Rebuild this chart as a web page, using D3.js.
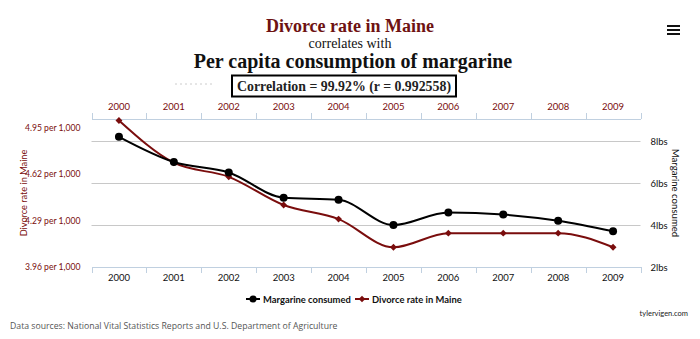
<!DOCTYPE html>
<html>
<head>
<meta charset="utf-8">
<script src="https://cdn.jsdelivr.net/npm/d3@7"></script>
<style>
  html, body { margin: 0; padding: 0; background: #fff; }
  svg { display: block; }
</style>
</head>
<body>
<svg id="chart" width="700" height="339"></svg>
<script>
const years = ["2000","2001","2002","2003","2004","2005","2006","2007","2008","2009"];
const margarine = [8.2, 7.0, 6.5, 5.3, 5.2, 4.0, 4.6, 4.5, 4.2, 3.7];
const divorce = [5.0, 4.7, 4.6, 4.4, 4.3, 4.1, 4.2, 4.2, 4.2, 4.1];
const leftTicks = [3.96, 4.29, 4.62, 4.95];
const rightTicks = [2, 4, 6, 8];

const svg = d3.select("#chart");
const RED = "#7a0d0d";
const SANS = "Lato, Open Sans, sans-serif";
const plot = { left: 91.5, right: 640.5, top: 119, bottom: 267 };

const x = d3.scaleBand().domain(years).range([plot.left, plot.right]);
const cx = d => x(d) + x.bandwidth() / 2;
const yL = d3.scaleLinear().domain([3.96, 3.96 + (plot.bottom - plot.top) / 46.5 * 0.33]).range([plot.bottom, plot.top]);
const yR = d3.scaleLinear().domain([2, 2 + (plot.bottom - plot.top) / 21]).range([plot.bottom, plot.top]);

// Titles
svg.append("text").attr("x", 350).attr("y", 32).attr("text-anchor", "middle")
  .attr("font-family", "Liberation Serif, Times New Roman, serif").attr("font-weight", "bold")
  .attr("font-size", 18).attr("fill", "#6e1212").text("Divorce rate in Maine");
svg.append("text").attr("x", 350).attr("y", 47.5).attr("text-anchor", "middle")
  .attr("font-family", "Liberation Serif, Times New Roman, serif")
  .attr("font-size", 14).attr("fill", "#111").text("correlates with");
svg.append("text").attr("x", 353).attr("y", 68).attr("text-anchor", "middle")
  .attr("font-family", "Liberation Serif, Times New Roman, serif").attr("font-weight", "bold")
  .attr("font-size", 20).attr("fill", "#111").text("Per capita consumption of margarine");
svg.append("rect").attr("x", 232).attr("y", 75.5).attr("width", 224).attr("height", 21)
  .attr("fill", "none").attr("stroke", "#000").attr("stroke-width", 2);
svg.append("text").attr("x", 344).attr("y", 91).attr("text-anchor", "middle")
  .attr("font-family", "Liberation Serif, Times New Roman, serif").attr("font-weight", "bold")
  .attr("font-size", 15).attr("fill", "#222")
  .attr("textLength", 214).attr("lengthAdjust", "spacingAndGlyphs")
  .text("Correlation = 99.92% (r = 0.992558)");
svg.append("line").attr("x1", 175).attr("x2", 212).attr("y1", 84).attr("y2", 84)
  .attr("stroke", "#ccc").attr("stroke-width", 1).attr("stroke-dasharray", "2,3");

// Hamburger
[26, 30, 34].forEach(yy => svg.append("rect").attr("x", 667).attr("y", yy - 1).attr("width", 13).attr("height", 2).attr("fill", "#111"));

// Gridlines (right axis ticks)
svg.append("g").selectAll("line").data(rightTicks.slice(1)).join("line")
  .attr("x1", plot.left).attr("x2", plot.right)
  .attr("y1", d => Math.round(yR(d)) + 0.5).attr("y2", d => Math.round(yR(d)) + 0.5)
  .attr("stroke", "#c8c8c8").attr("stroke-width", 1);

// Top axis
const topAxis = d3.axisTop(x).tickSize(0).tickPadding(9);
const gTop = svg.append("g").attr("transform", `translate(0,${plot.top})`).call(topAxis);
gTop.select(".domain").attr("stroke", "#c0d0e0");
gTop.selectAll("text").attr("fill", RED).attr("font-family", SANS).attr("font-size", 9.5);
gTop.selectAll(".bt").data(d3.range(years.length + 1)).join("line")
  .attr("x1", i => Math.round(plot.left + i * x.step()) + 0.5).attr("x2", i => Math.round(plot.left + i * x.step()) + 0.5)
  .attr("y1", 0).attr("y2", -6).attr("stroke", "#c0d0e0");

// Bottom axis
const botAxis = d3.axisBottom(x).tickSize(0).tickPadding(7);
const gBot = svg.append("g").attr("transform", `translate(0,${plot.bottom})`).call(botAxis);
gBot.select(".domain").attr("stroke", "#c0d0e0");
gBot.selectAll("text").attr("fill", "#111").attr("font-family", SANS).attr("font-size", 9.5);
gBot.selectAll(".bt").data(d3.range(years.length + 1)).join("line")
  .attr("x1", i => Math.round(plot.left + i * x.step()) + 0.5).attr("x2", i => Math.round(plot.left + i * x.step()) + 0.5)
  .attr("y1", 0).attr("y2", 6).attr("stroke", "#c0d0e0");

// Left axis
const gL = svg.append("g").attr("transform", `translate(${plot.left},0)`)
  .call(d3.axisLeft(yL).tickValues(leftTicks).tickSize(0).tickPadding(11).tickFormat(d => d3.format(".2f")(d) + " per 1,000"));
gL.select(".domain").remove();
gL.selectAll("text").attr("fill", RED).attr("font-family", SANS).attr("font-size", 8.6);
svg.append("text").attr("transform", "translate(27,193) rotate(-90)").attr("text-anchor", "middle")
  .attr("fill", RED).attr("font-family", SANS).attr("font-size", 9.2)
  .text("Divorce rate in Maine");

// Right axis
const gR = svg.append("g").attr("transform", `translate(${plot.right},0)`)
  .call(d3.axisRight(yR).tickValues(rightTicks).tickSize(0).tickPadding(10).tickFormat(d => d + "lbs"));
gR.select(".domain").remove();
gR.selectAll("text").attr("fill", "#111").attr("font-family", SANS).attr("font-size", 9.5);
svg.append("text").attr("transform", "translate(672,193) rotate(90)").attr("text-anchor", "middle")
  .attr("fill", "#111").attr("font-family", SANS).attr("font-size", 9.6)
  .text("Margarine consumed");

// Lines
const lineM = d3.line().x((d, i) => cx(years[i])).y(d => yR(d)).curve(d3.curveMonotoneX);
const lineD = d3.line().x((d, i) => cx(years[i])).y(d => yL(d)).curve(d3.curveMonotoneX);

svg.append("path").attr("d", lineD(divorce)).attr("fill", "none").attr("stroke", RED).attr("stroke-width", 2);
svg.append("path").attr("d", lineM(margarine)).attr("fill", "none").attr("stroke", "#000").attr("stroke-width", 2);

const diamond = d3.symbol().type(d3.symbolDiamond2).size(30);
svg.append("g").selectAll("path").data(divorce).join("path")
  .attr("d", diamond).attr("transform", (d, i) => `translate(${cx(years[i])},${yL(d)})`).attr("fill", RED);
svg.append("g").selectAll("circle").data(margarine).join("circle")
  .attr("cx", (d, i) => cx(years[i])).attr("cy", d => yR(d)).attr("r", 4).attr("fill", "#000");

// Legend
const leg = svg.append("g").attr("font-family", SANS).attr("font-size", 9.4).attr("font-weight", "bold");
leg.append("line").attr("x1", 246).attr("x2", 260).attr("y1", 299).attr("y2", 299).attr("stroke", "#000").attr("stroke-width", 2);
leg.append("circle").attr("cx", 253).attr("cy", 299).attr("r", 3.5).attr("fill", "#000");
leg.append("text").attr("x", 263).attr("y", 302.5).attr("fill", "#111").text("Margarine consumed");
leg.append("line").attr("x1", 355).attr("x2", 369).attr("y1", 299).attr("y2", 299).attr("stroke", RED).attr("stroke-width", 2);
leg.append("path").attr("d", d3.symbol().type(d3.symbolDiamond2).size(28)).attr("transform", "translate(362,299)").attr("fill", RED);
leg.append("text").attr("x", 372).attr("y", 302.5).attr("fill", "#111").text("Divorce rate in Maine");

// Footer
svg.append("text").attr("x", 10).attr("y", 328.5).attr("fill", "#555")
  .attr("font-family", "Open Sans, sans-serif").attr("font-size", 8.7)
  .text("Data sources: National Vital Statistics Reports and U.S. Department of Agriculture");
svg.append("text").attr("x", 688).attr("y", 315.5).attr("text-anchor", "end").attr("fill", "#222")
  .attr("font-family", SANS).attr("font-size", 7.5)
  .text("tylervigen.com");
</script>
</body>
</html>
